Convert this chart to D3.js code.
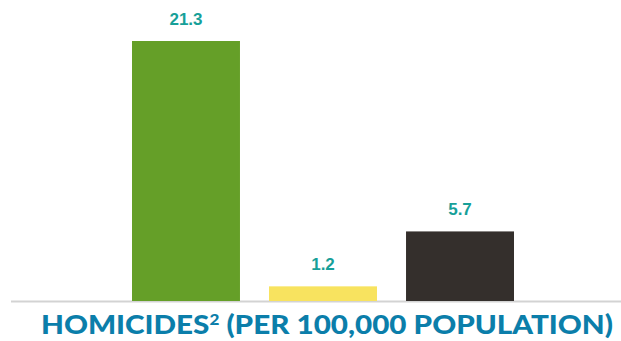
<!DOCTYPE html>
<html>
<head>
<meta charset="utf-8">
<script src="https://cdn.jsdelivr.net/npm/d3@7"></script>
<style>
  html, body { margin: 0; padding: 0; background: #fff; }
  svg { display: block; }
</style>
</head>
<body>
<svg id="chart" width="621" height="341"></svg>
<script>
// data
var categories = ["A", "B", "C"];
var values = [21.3, 1.2, 5.7];
var labels = ["21.3", "1.2", "5.7"];
var colors = ["#659f28", "#f8e35f", "#342f2c"];
var title = "HOMICIDES";

var svg = d3.select("#chart"),
    width = +svg.attr("width"),
    height = +svg.attr("height");

var x = d3.scaleBand()
    .domain(categories)
    .range([132, 514])
    .paddingInner(0.212)
    .paddingOuter(0);

var y = d3.scaleLinear()
    .domain([0, 21.3])
    .range([301, 41]);

// baseline
svg.append("line")
    .attr("x1", 11).attr("x2", width)
    .attr("y1", y(0) + 0.5).attr("y2", y(0) + 0.5)
    .attr("stroke", "#d3d3d3")
    .attr("stroke-width", 2);

svg.append("g")
    .selectAll("rect")
    .data(values)
    .enter().append("rect")
    .attr("x", function(d, i) { return x(categories[i]); })
    .attr("width", x.bandwidth())
    .attr("y", function(d) { return y(d); })
    .attr("height", function(d) { return y(0) - y(d); })
    .attr("fill", function(d, i) { return colors[i]; });

svg.append("g")
    .selectAll("text")
    .data(values)
    .enter().append("text")
    .attr("x", function(d, i) { return x(categories[i]) + x.bandwidth() / 2; })
    .attr("y", function(d) { return y(d) - 16; })
    .attr("text-anchor", "middle")
    .attr("font-family", "Liberation Sans, Arial, sans-serif")
    .attr("font-weight", "bold")
    .attr("font-size", 17)
    .attr("fill", "#17a099")
    .text(function(d, i) { return labels[i]; });

// title
var t = svg.append("text")
    .attr("x", 41)
    .attr("y", 334)
    .attr("font-family", "Lato, 'Open Sans', sans-serif")
    .attr("font-weight", 900)
    .attr("font-size", 26)
    .attr("fill", "#0b7eaa")
    .attr("textLength", 572)
    .attr("lengthAdjust", "spacingAndGlyphs");
t.append("tspan").text(title);
t.append("tspan").attr("dy", -9).attr("font-size", 15).text("2");
t.append("tspan").attr("dy", 9).text(" (PER 100,000 POPULATION)");
</script>
</body>
</html>
